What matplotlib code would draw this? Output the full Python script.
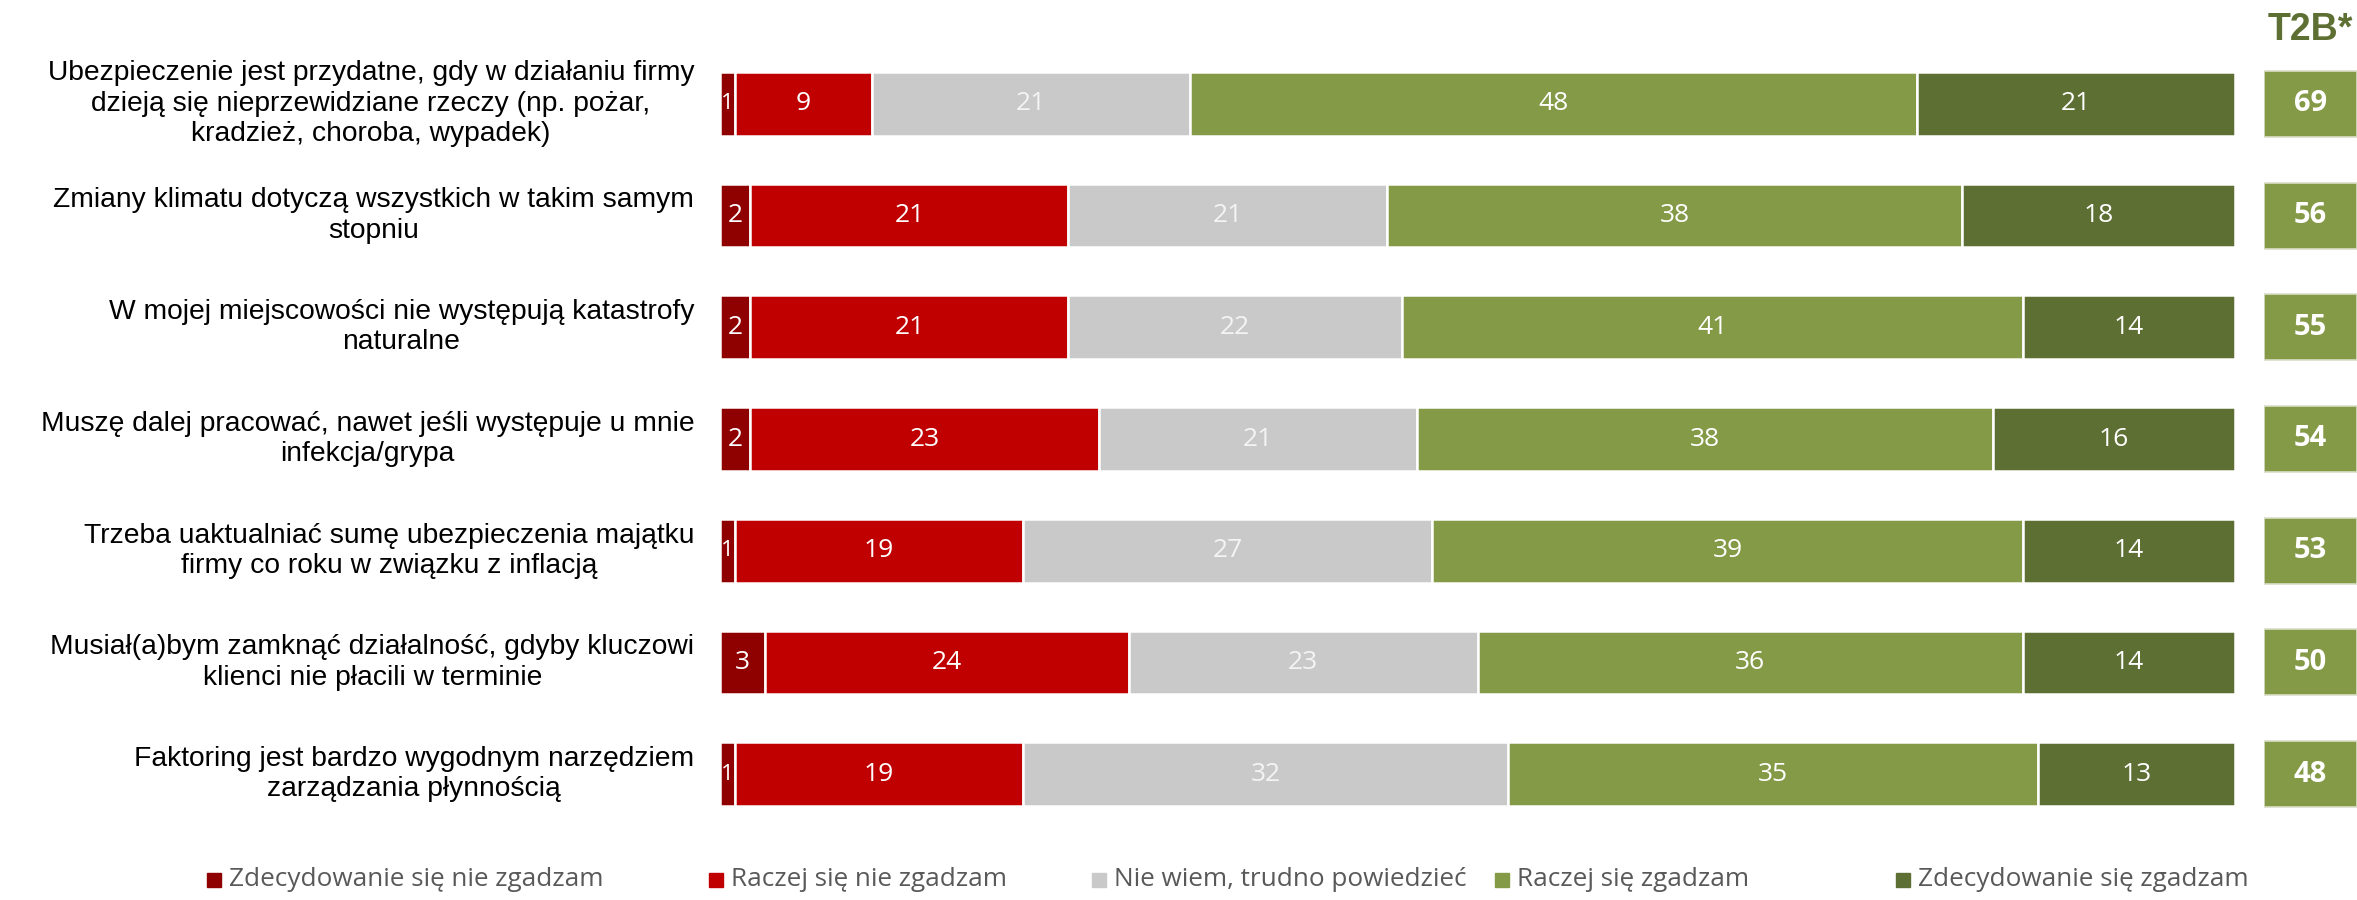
import matplotlib
matplotlib.use("Agg")
import matplotlib.pyplot as plt
from matplotlib.patches import Rectangle

categories = [
    "Ubezpieczenie jest przydatne, gdy w działaniu firmy\ndzieją się nieprzewidziane rzeczy (np. pożar,\nkradzież, choroba, wypadek)",
    "Zmiany klimatu dotyczą wszystkich w takim samym\nstopniu",
    "W mojej miejscowości nie występują katastrofy\nnaturalne",
    "Muszę dalej pracować, nawet jeśli występuje u mnie\ninfekcja/grypa",
    "Trzeba uaktualniać sumę ubezpieczenia majątku\nfirmy co roku w związku z inflacją",
    "Musiał(a)bym zamknąć działalność, gdyby kluczowi\nklienci nie płacili w terminie",
    "Faktoring jest bardzo wygodnym narzędziem\nzarządzania płynnością",
]
series_names = [
    "Zdecydowanie się nie zgadzam",
    "Raczej się nie zgadzam",
    "Nie wiem, trudno powiedzieć",
    "Raczej się zgadzam",
    "Zdecydowanie się zgadzam",
]
strongly_disagree = [1, 2, 2, 2, 1, 3, 1]
rather_disagree = [9, 21, 21, 23, 19, 24, 19]
dont_know = [21, 21, 22, 21, 27, 23, 32]
rather_agree = [48, 38, 41, 38, 39, 36, 35]
strongly_agree = [21, 18, 14, 16, 14, 14, 13]
t2b = [69, 56, 55, 54, 53, 50, 48]

colors = ["#8F0000", "#C00000", "#C9C9C9", "#849A47", "#5E6F33"]
label_colors = ["white", "white", "#F4F4F4", "white", "white"]

W, H = 2357, 900
fig = plt.figure(figsize=(W / 100, H / 100), dpi=100)

def fx(px):
    return px / W

def fy(py):
    return 1 - py / H

row_top, row_bot = 48, 830
ax = fig.add_axes([fx(720), fy(row_bot), fx(2235) - fx(720), fy(row_top) - fy(row_bot)])
ax.set_xlim(0, 100)
ax.set_ylim(len(categories) - 0.5, -0.5)
ax.axis("off")

val_font = ["Open Sans", "DejaVu Sans"]
series = [strongly_disagree, rather_disagree, dont_know, rather_agree, strongly_agree]
ypos = list(range(len(categories)))
bh = 0.57
left = [0] * len(categories)
for s, vals in enumerate(series):
    ax.barh(ypos, vals, left=left, height=bh, color=colors[s],
            edgecolor="white", linewidth=1.8, label=series_names[s])
    for i, v in enumerate(vals):
        ax.text(left[i] + v / 2, i, str(v), ha="center", va="center",
                color=label_colors[s], fontsize=19 if v > 1 else 16,
                family=val_font)
    left = [l + v for l, v in zip(left, vals)]

for i, c in enumerate(categories):
    ax.text(-1.7, i, c, ha="right", va="center", multialignment="center",
            fontsize=20.3, family=["Liberation Sans", "DejaVu Sans"], color="black",
            linespacing=1.22)

# T2B boxes
ax2 = fig.add_axes([fx(2264), fy(row_bot), fx(2357) - fx(2264), fy(row_top) - fy(row_bot)])
ax2.set_xlim(0, 1)
ax2.set_ylim(len(categories) - 0.5, -0.5)
ax2.axis("off")
ax2.barh(ypos, [1] * len(t2b), left=0, height=0.59, color="#849A47",
         edgecolor="#D9DEC8", linewidth=1.2)
for i, v in enumerate(t2b):
    ax2.text(0.5, i, str(v), ha="center", va="center", color="white",
             fontsize=21, fontweight="bold", family=["Open Sans", "DejaVu Sans"])

fig.text(fx(2310), fy(30), "T2B*", ha="center", va="center", fontsize=27,
         fontweight="bold", color="#5E6F33", family=["Liberation Sans", "DejaVu Sans"])

# Legend
leg_x = [215, 717, 1100, 1503, 1904]
leg_y = 879
for x, name, col in zip(leg_x, series_names, colors):
    fig.patches.append(Rectangle((fx(x - 8), fy(leg_y + 8)), fx(14), 14 / H,
                                 transform=fig.transFigure, color=col))
    fig.text(fx(x + 14), fy(leg_y), name, ha="left", va="center", fontsize=18.8,
             color="#595959", family=val_font)

fig.savefig("out.png", dpi=100)
